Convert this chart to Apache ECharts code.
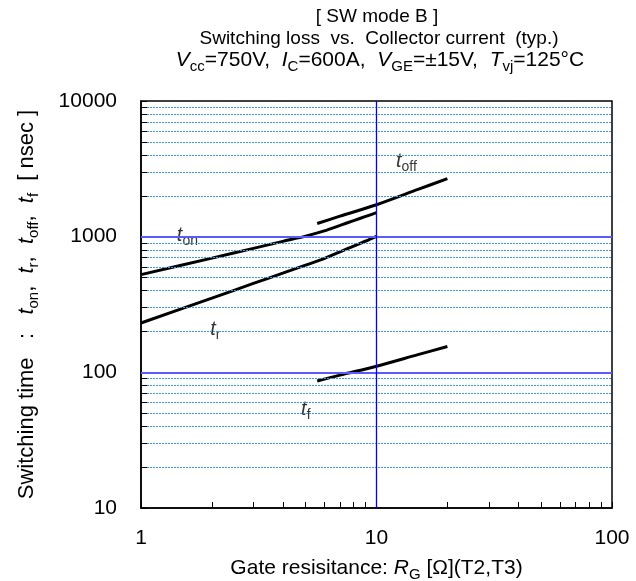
<!DOCTYPE html>
<html><head><meta charset="utf-8">
<script src="https://cdn.jsdelivr.net/npm/echarts@6/dist/echarts.min.js"></script>
<style>html,body{margin:0;padding:0;background:#fff}#c{width:636px;height:581px}</style>
</head><body><div id="c"></div>
<script>
const FONT = '"Liberation Sans", Arial, sans-serif';

// ---- data ----
const xTickLabels = [1, 10, 100];
const yTickLabels = [10, 100, 1000, 10000];
const tOn  = [[1,525],[2,695],[3,820],[4,923],[5,1010],[6,1104],[7,1211],[8,1313],[9,1410],[10,1503]];
const tR   = [[1,231],[2,352],[3,452],[4,538],[5,617],[6,690],[7,773],[8,853],[9,929],[10,1007]];
const tOff = [[5.6,1250],[7,1416],[10,1720],[15,2230],[20,2680]];
const tF   = [[5.6,86.3],[7,95.4],[10,111],[15,135],[20,155]];
const curveLabelSubs = ['on', 'r', 'off', 'f'];
const curveLabelPos  = [[1.574,1023],[2.07,207.6],[13.4,3593],[5.01,53.4]];
const majorY = [100, 1000];
const majorX = [10];
const minorY = [20,30,40,50,60,70,80,90,200,300,400,500,600,700,800,900,2000,3000,4000,5000,6000,7000,8000,9000];
const minorX = [2,3,4,5,6,7,8,9,20,30,40,50,60,70,80,90];

// ---- styles ----
const FS = 21;
const mkRich = (fs, sub, lh) => ({
  i: {fontStyle:'italic', fontSize:fs, fontFamily:FONT, color:'#000', lineHeight:lh},
  s: {fontSize:sub, fontFamily:FONT, color:'#000', lineHeight:sub, verticalAlign:'bottom'},
  n: {fontSize:fs, fontFamily:FONT, color:'#000', lineHeight:lh}
});
const richAxis = mkRich(FS, 15, 28);
const richY = mkRich(22, 15, 28);
const richT3 = mkRich(21, 15, 27);
const richCurve = mkRich(20, 14, 26);
const X0 = xTickLabels[0], Y0 = yTickLabels[0];
const X1 = xTickLabels[xTickLabels.length-1];
const tickX = 1.062, tickY = 1.107; // tick lengths as log-axis ratios (~6px)

const chart = echarts.init(document.getElementById('c'), null, {renderer:'canvas'});
const titleStyle = {fontFamily:FONT, fontSize:19, fontWeight:'normal', color:'#000', lineHeight:24};
const title3Style = {fontFamily:FONT, fontSize:21, fontWeight:'normal', color:'#000', lineHeight:27, rich:richT3};
const option = {
  animation:false,
  backgroundColor:'#fff',
  title:[
    {text:'[ SW mode B ]', left:377, top:5, textAlign:'center', padding:0, textStyle:titleStyle},
    {text:'Switching loss  vs.  Collector current  (typ.)', left:379, top:27, textAlign:'center', padding:0, textStyle:titleStyle},
    {text:'{i|V}{s|cc}=750V,  {i|I}{s|C}=600A,  {i|V}{s|GE}=±15V,  {i|T}{s|vj}=125°C', left:380, top:47, textAlign:'center', padding:0, textStyle:title3Style}
  ],
  grid:{left:141, right:24, top:101, bottom:73, outerBoundsMode:'none', containLabel:false,
        show:true, borderColor:'#000', borderWidth:1.5, backgroundColor:'transparent'},
  xAxis:{
    type:'log', logBase:10, min:X0, max:X1,
    axisLine:{show:true, lineStyle:{color:'#000', width:1.5}},
    axisTick:{show:true, inside:true, length:6, lineStyle:{color:'#000'}},
    splitLine:{show:false},
    axisLabel:{margin:20, fontFamily:FONT, fontSize:FS, color:'#000', formatter:v=>String(Math.round(v))},
    name:'Gate resisitance: {i|R}{s|G} [Ω](T2,T3)', nameLocation:'middle', nameGap:36,
    nameTextStyle:{fontFamily:FONT, fontSize:FS, color:'#000', lineHeight:28, rich:richAxis}
  },
  yAxis:{
    type:'log', logBase:10, min:Y0, max:yTickLabels[yTickLabels.length-1],
    axisLine:{show:true, lineStyle:{color:'#000', width:1.5}},
    axisTick:{show:true, inside:true, length:6, lineStyle:{color:'#000'}},
    splitLine:{show:false},
    axisLabel:{margin:24, fontFamily:FONT, fontSize:FS, color:'#000', formatter:v=>String(Math.round(v))},
    name:'Switching time   :   {i|t}{s|on},  {i|t}{s|r},  {i|t}{s|off},  {i|t}{s|f}  [ nsec ]',
    nameLocation:'middle', nameGap:100,
    nameTextStyle:{fontFamily:FONT, fontSize:22, color:'#000', lineHeight:28, rich:richY}
  },
  series:[
    {
      type:'line', data:[], z:1, silent:true,
      markLine:{
        silent:true, symbol:'none', animation:false, label:{show:false},
        data:[
          ...minorY.map(v=>({yAxis:v, lineStyle:{color:'#3b9ad8', width:1, type:[2,1]}})),
          ...majorY.map(v=>({yAxis:v, lineStyle:{color:'#5a5aff', width:2, type:'solid'}})),
          ...majorX.map(v=>({xAxis:v, lineStyle:{color:'#0000ff', width:1.3, type:'solid'}})),
          ...minorX.map(v=>[{coord:[v,Y0], lineStyle:{color:'#000', width:1, type:'solid'}},{coord:[v,Y0*tickY]}]),
          ...minorY.map(v=>[{coord:[X0,v], lineStyle:{color:'#000', width:1, type:'solid'}},{coord:[X0*tickX,v]}])
        ]
      }
    },
    ...[tOn,tR,tOff,tF].map(d=>({type:'line', data:d, z:3, showSymbol:false, symbol:'none', smooth:0.3,
      lineStyle:{color:'#000', width:3}})),
    {
      type:'scatter', z:4, symbolSize:0, silent:true,
      data:curveLabelPos.map((p,k)=>({value:p, sub:curveLabelSubs[k]})),
      label:{show:true, position:'inside', formatter:p=>'{i|t}{s|'+p.data.sub+'}', rich:richCurve}
    }
  ]
};
chart.setOption(option);
</script></body></html>
